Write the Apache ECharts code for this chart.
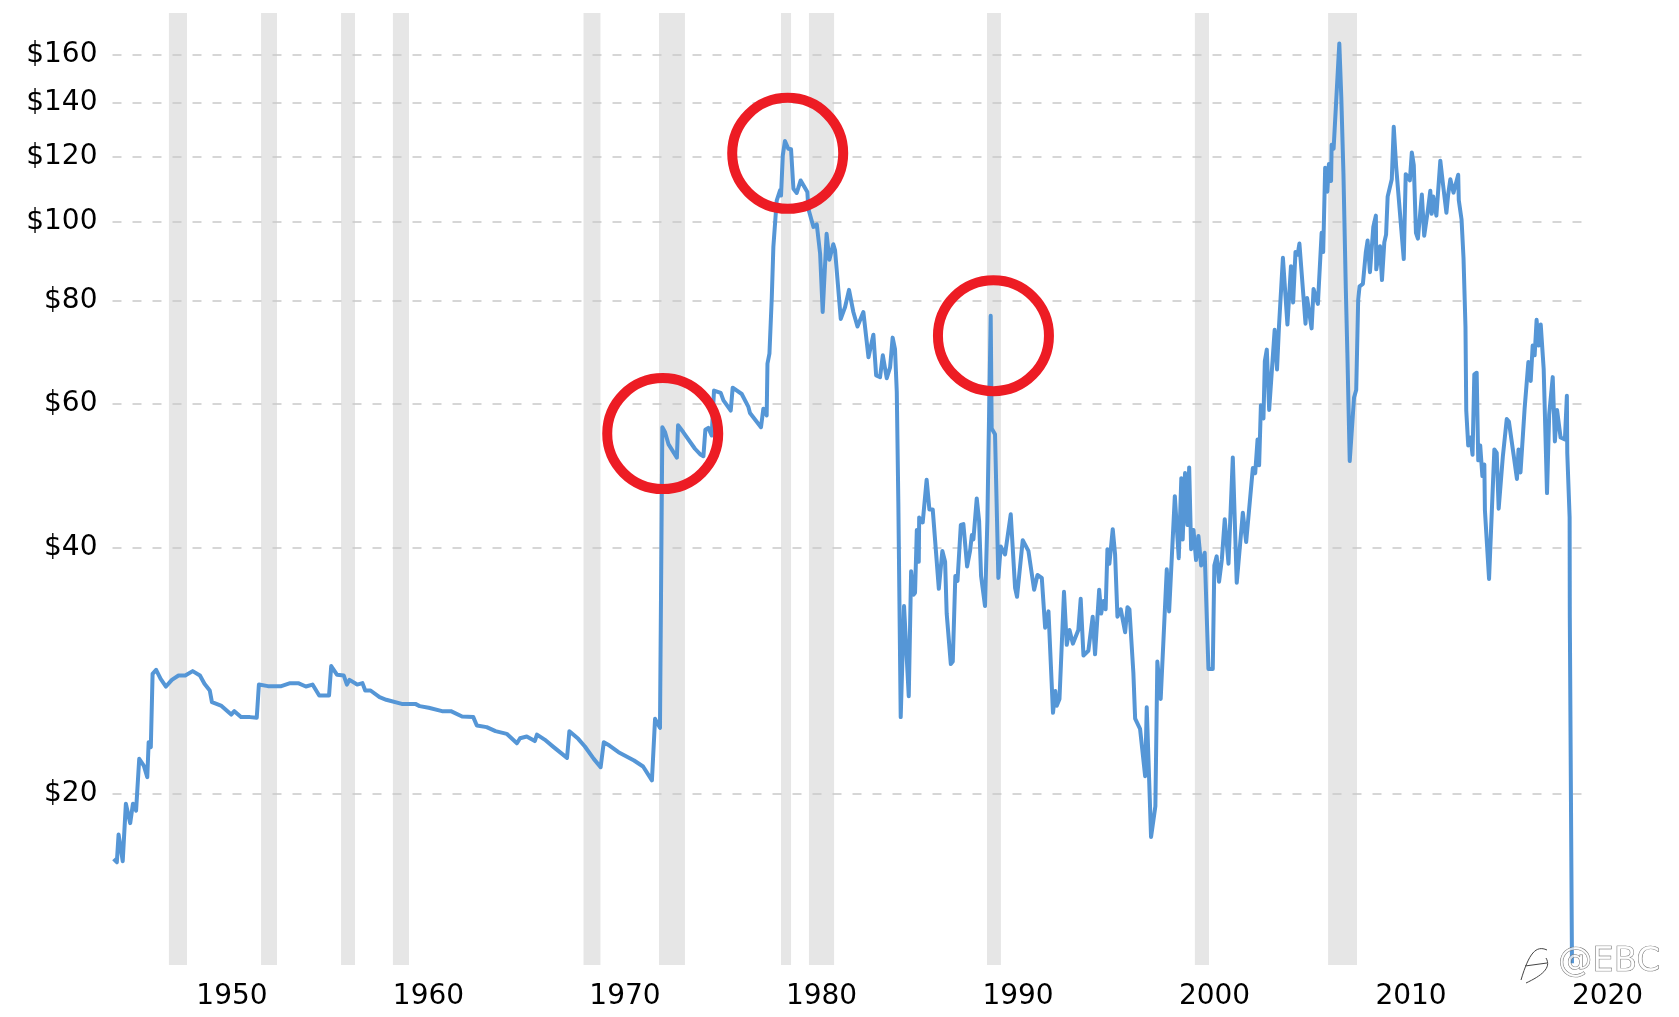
<!DOCTYPE html>
<html>
<head>
<meta charset="utf-8">
<style>html,body{margin:0;padding:0;background:#fff}#chart{width:1679px;height:1017px}</style>
<script src="https://cdn.jsdelivr.net/npm/echarts@6/dist/echarts.min.js"></script>
</head>
<body>
<div id="chart"></div>
<script>
const years = [1943.98,1944.14,1944.23,1944.44,1944.6,1944.82,1944.96,1945.12,1945.28,1945.51,1945.69,1945.76,1945.87,1945.96,1946.14,1946.37,1946.64,1946.94,1947.28,1947.62,1948.0,1948.37,1948.6,1948.87,1948.98,1949.44,1949.96,1950.12,1950.46,1950.92,1951.26,1951.37,1951.83,1952.51,1952.96,1953.37,1953.76,1954.1,1954.44,1954.94,1955.05,1955.35,1955.69,1955.85,1955.98,1956.37,1956.64,1956.78,1957.05,1957.51,1957.85,1958.64,1959.33,1959.55,1960.01,1960.69,1961.14,1961.71,1962.28,1962.46,1962.96,1963.41,1963.98,1964.5,1964.66,1965.0,1965.41,1965.52,1965.91,1966.37,1967.05,1967.17,1967.62,1967.96,1968.41,1968.76,1968.92,1969.21,1969.67,1970.46,1970.92,1971.37,1971.53,1971.78,
1971.9,1972.04,1972.21,1972.64,1972.7,1972.97,1973.56,1973.82,1973.99,1974.09,1974.24,1974.41,1974.53,1974.87,1975.01,1975.38,1975.48,1975.94,1976.28,1976.36,1976.92,1977.04,1977.21,1977.25,1977.35,1977.47,1977.55,1977.72,1977.89,1977.94,1978.03,1978.14,1978.31,1978.45,1978.57,1978.74,1978.94,1979.28,1979.33,1979.59,1979.76,1979.93,1980.06,1980.26,1980.4,1980.6,1980.69,1980.98,1981.2,1981.4,1981.62,1981.83,1982.13,1982.39,1982.64,1982.78,1982.98,1983.12,1983.32,1983.49,
1983.62,1983.74,1983.83,1983.91,1984.03,1984.2,1984.44,1984.56,1984.68,1984.76,1984.85,1984.95,1984.97,1985.15,1985.35,1985.49,1985.66,1985.97,1986.15,1986.29,1986.37,1986.58,1986.68,1986.81,1986.92,1987.09,1987.22,1987.41,1987.56,1987.65,1987.73,1987.9,1988.02,1988.12,1988.32,1988.44,1988.61,1988.66,1988.83,1989.0,1989.12,1989.34,1989.63,1989.85,1989.95,1990.24,1990.53,1990.82,1990.99,1991.21,1991.38,1991.55,1991.78,1991.9,1991.97,1992.11,1992.34,1992.48,1992.62,1992.79,1993.07,1993.19,1993.33,1993.58,1993.8,1993.92,1994.13,1994.23,1994.35,1994.46,1994.55,1994.65,1994.82,1994.94,1995.06,1995.23,1995.45,1995.57,1995.67,1995.87,1995.96,1996.21,1996.47,1996.55,1996.77,1996.99,1997.09,1997.26,1997.57,1997.69,1997.98,1998.18,1998.31,1998.38,1998.5,1998.62,1998.71,1998.81,1998.93,1999.06,1999.18,1999.32,1999.5,1999.69,1999.91,1999.99,2000.11,2000.23,2000.37,2000.52,2000.71,2000.93,2001.13,2001.44,2001.61,
2001.95,2002.07,2002.19,2002.27,2002.36,2002.49,2002.56,2002.66,2002.78,2003.06,2003.18,2003.28,2003.48,2003.71,2003.89,2004.0,2004.12,2004.23,2004.32,2004.41,2004.63,2004.71,2004.94,2005.04,2005.26,2005.45,2005.53,2005.63,2005.74,2005.82,2005.93,2005.96,2006.06,2006.35,2006.45,2006.56,2006.68,2006.76,2006.88,2007.1,2007.21,2007.31,2007.38,2007.55,2007.7,2007.79,2007.91,2008.08,2008.21,2008.23,2008.42,2008.52,2008.64,2008.73,2008.81,2008.91,2009.02,2009.12,2009.24,2009.34,2009.44,2009.63,2009.73,2009.94,2010.04,2010.14,2010.25,2010.35,2010.55,2010.67,2010.86,2010.98,2011.05,2011.13,2011.29,2011.49,2011.63,2011.8,2011.89,2012.0,2012.16,2012.4,2012.43,2012.57,2012.67,2012.77,2012.81,2012.91,2013.03,2013.13,2013.22,2013.34,2013.42,2013.52,2013.63,2013.73,2013.76,2013.97,2014.07,2014.24,2014.36,2014.46,2014.67,2014.87,2014.98,2015.08,2015.22,2015.39,2015.47,2015.57,2015.78,2015.97,2016.09,2016.19,2016.29,2016.39,2016.5,2016.6,2016.75,2016.92,2017.03,2017.21,2017.32,2017.43,2017.61,2017.83,2017.93,2017.95,2018.07,2018.08,2018.19];
const prices = [16.64,16.48,17.82,16.53,19.43,18.4,19.43,19.06,22.05,21.64,20.94,23.11,22.79,28.01,28.33,27.62,27.03,27.54,27.88,27.88,28.23,27.88,27.24,26.73,25.87,25.62,24.98,25.22,24.8,24.8,24.75,27.18,27.06,27.06,27.29,27.29,27.03,27.18,26.36,26.36,28.63,27.94,27.88,27.18,27.54,27.18,27.29,26.73,26.73,26.23,26.04,25.74,25.74,25.58,25.46,25.22,25.22,24.84,24.8,24.22,24.11,23.84,23.66,23.04,23.37,23.48,23.18,23.61,23.28,22.79,22.11,23.84,23.33,22.83,22.05,21.54,23.11,22.89,22.47,21.95,21.58,20.75,24.68,24.06,
56.1,55.3,53.5,51.5,56.4,55.3,52.8,52.0,51.7,55.7,56.0,54.8,62.2,61.8,60.5,58.8,62.7,61.6,59.4,58.4,56.1,59.1,58.0,67.1,69.0,80.9,93.2,106.2,109.3,107.7,120.6,125.6,122.9,122.7,109.8,108.5,112.4,108.8,103.8,98.6,99.3,91.4,77.6,96.7,89.9,93.9,92.3,76.1,78.7,82.6,77.6,74.5,77.6,68.3,72.8,64.9,64.6,68.7,64.4,66.4,
72.2,69.9,62.0,45.4,24.8,33.9,26.3,37.4,35.0,35.2,42.0,38.4,43.5,42.9,48.4,44.5,44.5,35.6,39.6,38.4,33.2,28.8,29.0,36.9,36.4,42.6,42.7,37.9,39.6,41.4,40.9,45.9,43.1,36.9,33.9,43.1,76.8,55.9,55.0,36.7,40.1,39.2,43.9,35.7,34.8,40.8,39.6,35.5,37.0,36.7,31.9,33.4,25.1,26.7,25.6,26.1,35.3,30.4,31.7,30.5,31.7,34.6,29.5,29.9,32.9,29.6,35.5,33.2,34.4,33.6,39.8,38.2,42.1,39.2,32.9,33.6,31.5,33.8,33.6,28.1,24.7,24.0,21.0,25.5,17.7,19.3,29.0,26.1,37.6,33.4,46.2,38.8,48.6,40.9,49.3,42.6,50.1,39.8,42.0,38.6,41.3,38.0,39.4,28.4,28.4,38.0,39.0,36.3,38.6,43.3,38.2,51.5,36.2,44.1,40.6,
50.0,49.3,54.2,50.4,59.7,57.5,67.6,69.8,58.9,73.8,66.0,74.5,90.4,74.9,88.3,79.7,91.9,91.2,94.1,94.2,75.1,80.7,74.1,82.8,79.4,97.0,91.9,116.5,108.9,117.7,112.2,124.3,122.9,165.3,142.2,114.6,83.0,69.1,51.0,61.0,62.3,80.3,83.4,84.0,91.9,94.9,86.8,98.6,101.8,87.5,93.4,84.9,94.4,96.5,107.4,108.0,112.8,130.7,117.1,109.4,108.9,90.1,114.4,112.4,121.6,117.4,97.0,95.4,108.0,96.2,103.5,109.2,102.3,107.4,101.8,118.8,111.0,102.6,108.0,112.8,108.6,114.2,106.3,100.7,90.4,74.5,58.8,53.3,54.5,51.9,65.1,65.4,51.1,53.3,48.9,50.5,44.4,36.6,36.8,52.7,52.2,44.6,51.6,57.4,57.0,57.2,51.9,48.5,52.7,49.4,59.1,67.4,63.9,70.6,68.7,75.9,70.6,74.9,66.1,46.6,58.1,64.6,53.9,58.9,54.5,54.2,61.3,52.2,43.5,32.8,12.4];
const bandStart = [1946.79,1951.48,1955.55,1958.19,1967.89,1971.73,1977.94,1979.36,1988.42,1999.0,2005.78];
const bandEnd   = [1947.71,1952.29,1956.26,1959.01,1968.75,1973.05,1978.45,1980.64,1989.13,1999.72,2007.25];
const priceTicks = [20,40,60,80,100,120,140,160];
const yearTicks = [1950,1960,1970,1980,1990,2000,2010,2020];
const circleYears = [1971.92,1978.28,1988.75];
const circlePrices = [55.1,121.3,72.6];
const gridFrom = 1943.92, gridTo = 2018.75;

const chart = echarts.init(document.getElementById('chart'), null, {renderer:'canvas'});
const markStroke = {fill:'none',stroke:'#444',lineWidth:1};
chart.setOption({
  animation:false,
  backgroundColor:'#fff',
  grid:{left:112.5,top:13,width:1554,height:952,containLabel:false},
  xAxis:{type:'value',min:1943.92,max:2023,
    axisLine:{show:false},axisTick:{show:false},splitLine:{show:false},
    axisLabel:{customValues:yearTicks,formatter:v=>String(v),fontFamily:'DejaVu Sans',fontSize:28,color:'#000',margin:18,hideOverlap:false,showMinLabel:true,showMaxLabel:true}},
  yAxis:{type:'log',logBase:2,min:12.34,max:180.1,
    axisLine:{show:false},axisTick:{show:false},splitLine:{show:false},minorTick:{show:false},minorSplitLine:{show:false},
    axisLabel:{customValues:priceTicks,formatter:v=>'$'+Math.round(v),fontFamily:'DejaVu Sans',fontSize:28,color:'#000',margin:15,padding:[5,0,0,0]}},
  series:[
    {type:'line',name:'bands',data:[],z:1,silent:true,
      markArea:{silent:true,z:1,itemStyle:{color:'#e6e6e6'},
        data:bandStart.map((s,i)=>[{xAxis:s},{xAxis:bandEnd[i]}])}},
    {type:'line',name:'grid',data:[],z:2,silent:true,
      markLine:{silent:true,z:2,symbol:'none',label:{show:false},animation:false,
        lineStyle:{type:[9,11],color:'#c9c9c9',width:1.5},
        data:priceTicks.map(p=>[{coord:[gridFrom,p]},{coord:[gridTo,p]}])}},
    {type:'line',name:'Price',z:3,showSymbol:false,symbol:'none',smooth:false,
      lineStyle:{color:'#5596d6',width:4,join:'round'},
      data:years.map((y,i)=>[y,prices[i]])},
    {type:'scatter',name:'highlights',z:4,symbol:'circle',symbolSize:111,silent:true,
      itemStyle:{color:'rgba(0,0,0,0)',borderColor:'#ed1c24',borderWidth:10,opacity:1},
      data:circleYears.map((y,i)=>[y,circlePrices[i]])}
  ],
  graphic:[
    {type:'bezierCurve',z:10,silent:true,shape:{x1:1547,y1:950,cpx1:1536,cpy1:945,cpx2:1529,cpy2:953,x2:1521,y2:980},style:markStroke},
    {type:'line',z:10,silent:true,shape:{x1:1525,y1:966,x2:1547,y2:963},style:markStroke},
    {type:'bezierCurve',z:10,silent:true,shape:{x1:1546,y1:958,cpx1:1552,cpy1:968,cpx2:1541,cpy2:976,x2:1526,y2:983},style:markStroke},
    {type:'text',z:10,silent:true,left:1558,top:945,
      style:{text:'@EBC',font:'34px "DejaVu Sans"',fill:'rgba(255,255,255,0.7)',stroke:'#555',lineWidth:0.7}}
  ]
});
</script>
</body>
</html>
